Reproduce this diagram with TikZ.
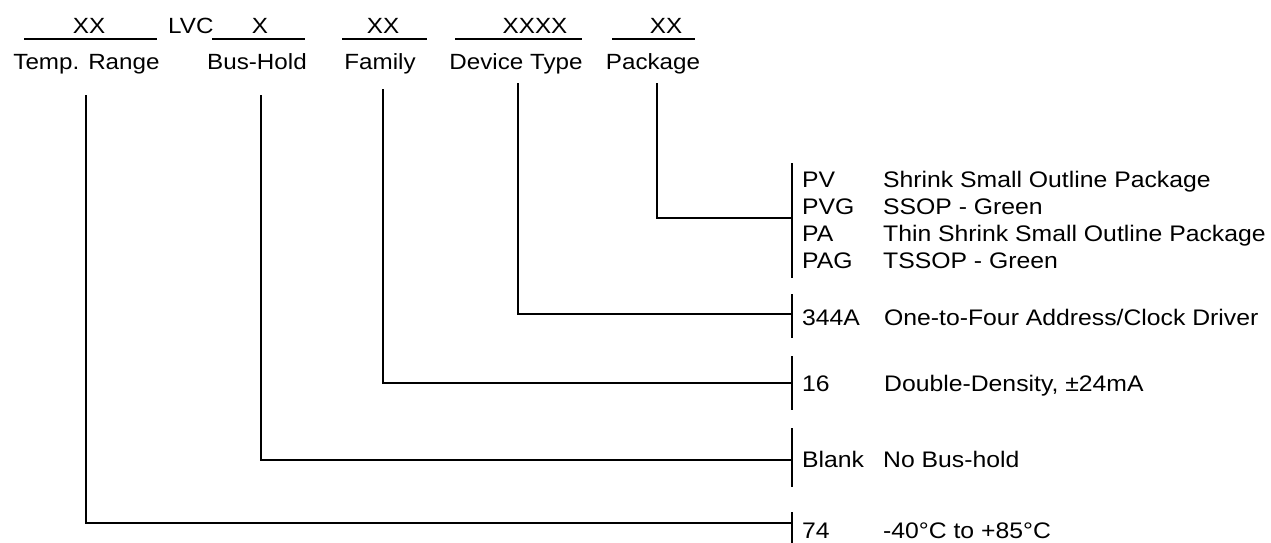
\documentclass[tikz,border=0pt]{standalone}
\usepackage{fontspec}
\setmainfont{Liberation Sans}[FakeStretch=1.1]
\tikzset{
  txt/.style={inner sep=0pt,font=\fontsize{22}{26}\selectfont},
  ctr/.style={txt,anchor=base},
  lft/.style={txt,anchor=base west,font=\fontsize{22.5}{26}\selectfont},
  lead/.style={line width=1.4pt},
  brk/.style={line width=1.2pt},
  uline/.style={line width=1.2pt}
}

\begin{document}
\begin{tikzpicture}[x=1pt,y=-1pt]
\useasboundingbox (0,0) rectangle (1271,542);
% part number fields
\node[ctr] (xxTmp) at (89,33) {XX};
\node[txt,anchor=base west] (lvc) at (168,33) {LVC};
\node[ctr] (xBus) at (260,33) {X};
\node[ctr] (xxFam) at (383,33) {XX};
\node[ctr] (xxDev) at (535,33) {XXXX};
\node[ctr] (xxPkg) at (666,33) {XX};
\draw[uline] (24,39) -- (157,39); \draw[uline] (212,39) -- (305,39);
\draw[uline] (342,39) -- (427,39); \draw[uline] (455,39) -- (582,39);
\draw[uline] (612,39) -- (695,39);
\node[ctr] (nmTmp) at (86.5,69) {Temp. Range};
\node[ctr] (nmBus) at (257,69) {Bus-Hold};
\node[ctr] (nmFam) at (380,69) {Family};
\node[ctr] (nmDev) at (516,69) {Device Type};
\node[ctr] (nmPkg) at (653,69) {Package};
% lead tops and bracket joints
\coordinate (tpTmp) at (86,95);  \coordinate (bkTmp) at (792,523);
\coordinate (tpBus) at (261,95); \coordinate (bkBus) at (792,460);
\coordinate (tpFam) at (383,89); \coordinate (bkFam) at (792,383);
\coordinate (tpDev) at (518,83); \coordinate (bkDev) at (792,314);
\coordinate (tpPkg) at (657,83); \coordinate (bkPkg) at (792,218);
\draw[lead] (tpTmp) |- (bkTmp);
\draw[lead] (tpBus) |- (bkBus);
\draw[lead] (tpFam) |- (bkFam);
\draw[lead] (tpDev) |- (bkDev);
\draw[lead] (tpPkg) |- (bkPkg);
% brackets
\draw[brk] (792,163) -- (792,278);
\draw[brk] (792,294) -- (792,338);
\draw[brk] (792,356) -- (792,410);
\draw[brk] (792,428) -- (792,487);
\draw[brk] (792,512) -- (792,546);
% option lists
\foreach \c/\d [count=\i] in {PV/Shrink Small Outline Package,PVG/SSOP - Green,PA/Thin Shrink Small Outline Package,PAG/TSSOP - Green}{
  \node[lft] (pkC\i) at (802,160+27*\i) {\c};
  \node[lft] (pkD\i) at (883,160+27*\i) {\d};
}
\node[lft] (devC) at (802,325) {344A}; \node[lft] (devD) at (884,325) {One-to-Four Address/Clock Driver};
\node[lft] (famC) at (802,391) {16};   \node[lft] (famD) at (884,391) {Double-Density, ±24mA};
\node[lft] (busC) at (802,467) {Blank};\node[lft] (busD) at (883,467) {No Bus-hold};
\node[lft] (tmpC) at (802,538) {74};   \node[lft] (tmpD) at (883,538) {-40°C to +85°C};
\end{tikzpicture}
\end{document}
